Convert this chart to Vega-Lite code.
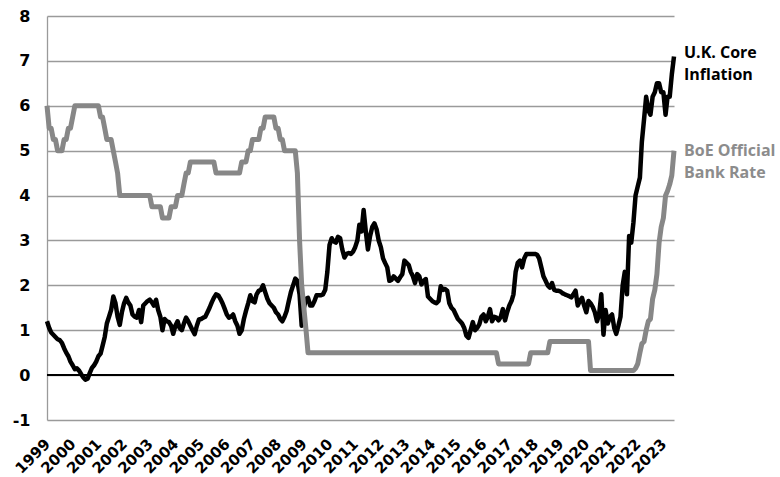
{
  "$schema": "https://vega.github.io/schema/vega-lite/v6.json",
  "width": 627,
  "height": 404,
  "autosize": {"type": "none"},
  "padding": {"left": 47, "top": 16, "right": 106, "bottom": 57},
  "background": "white",
  "config": {"view": {"stroke": null}, "font": "DejaVu Sans"},
  "datasets": {
    "zero": [{"z": 0}],
    "labels": [
      {"d": "2023-06-01", "y": 7.18, "series": "U.K. Core Inflation", "label": "U.K. Core\nInflation"},
      {"d": "2023-06-01", "y": 5.0, "series": "BoE Official Bank Rate", "label": "BoE Official\nBank Rate"}
    ],
    "monthly": [
      {"d":"1999-01-01","c":1.2,"b":6},{"d":"1999-02-01","c":1.05,"b":5.5},{"d":"1999-03-01","c":0.95,"b":5.5},{"d":"1999-04-01","c":0.9,"b":5.25},{"d":"1999-05-01","c":0.85,"b":5.25},{"d":"1999-06-01","c":0.8,"b":5},{"d":"1999-07-01","c":0.78,"b":5},{"d":"1999-08-01","c":0.72,"b":5},{"d":"1999-09-01","c":0.6,"b":5.25},{"d":"1999-10-01","c":0.5,"b":5.25},{"d":"1999-11-01","c":0.42,"b":5.5},{"d":"1999-12-01","c":0.3,"b":5.5},
      {"d":"2000-01-01","c":0.22,"b":5.75},{"d":"2000-02-01","c":0.13,"b":6},{"d":"2000-03-01","c":0.15,"b":6},{"d":"2000-04-01","c":0.1,"b":6},{"d":"2000-05-01","c":0.02,"b":6},{"d":"2000-06-01","c":-0.05,"b":6},{"d":"2000-07-01","c":-0.1,"b":6},{"d":"2000-08-01","c":-0.08,"b":6},{"d":"2000-09-01","c":0.05,"b":6},{"d":"2000-10-01","c":0.16,"b":6},{"d":"2000-11-01","c":0.22,"b":6},{"d":"2000-12-01","c":0.3,"b":6},
      {"d":"2001-01-01","c":0.42,"b":6},{"d":"2001-02-01","c":0.48,"b":5.75},{"d":"2001-03-01","c":0.65,"b":5.75},{"d":"2001-04-01","c":0.85,"b":5.5},{"d":"2001-05-01","c":1.15,"b":5.25},{"d":"2001-06-01","c":1.3,"b":5.25},{"d":"2001-07-01","c":1.45,"b":5.25},{"d":"2001-08-01","c":1.75,"b":5},{"d":"2001-09-01","c":1.6,"b":4.75},{"d":"2001-10-01","c":1.3,"b":4.5},{"d":"2001-11-01","c":1.12,"b":4},{"d":"2001-12-01","c":1.4,"b":4},
      {"d":"2002-01-01","c":1.6,"b":4},{"d":"2002-02-01","c":1.72,"b":4},{"d":"2002-03-01","c":1.62,"b":4},{"d":"2002-04-01","c":1.55,"b":4},{"d":"2002-05-01","c":1.35,"b":4},{"d":"2002-06-01","c":1.3,"b":4},{"d":"2002-07-01","c":1.28,"b":4},{"d":"2002-08-01","c":1.45,"b":4},{"d":"2002-09-01","c":1.18,"b":4},{"d":"2002-10-01","c":1.55,"b":4},{"d":"2002-11-01","c":1.6,"b":4},{"d":"2002-12-01","c":1.65,"b":4},
      {"d":"2003-01-01","c":1.68,"b":4},{"d":"2003-02-01","c":1.62,"b":3.75},{"d":"2003-03-01","c":1.55,"b":3.75},{"d":"2003-04-01","c":1.68,"b":3.75},{"d":"2003-05-01","c":1.45,"b":3.75},{"d":"2003-06-01","c":1.3,"b":3.75},{"d":"2003-07-01","c":1.0,"b":3.5},{"d":"2003-08-01","c":1.25,"b":3.5},{"d":"2003-09-01","c":1.2,"b":3.5},{"d":"2003-10-01","c":1.18,"b":3.5},{"d":"2003-11-01","c":1.1,"b":3.75},{"d":"2003-12-01","c":0.92,"b":3.75},
      {"d":"2004-01-01","c":1.1,"b":3.75},{"d":"2004-02-01","c":1.2,"b":4},{"d":"2004-03-01","c":1.05,"b":4},{"d":"2004-04-01","c":1.0,"b":4},{"d":"2004-05-01","c":1.15,"b":4.25},{"d":"2004-06-01","c":1.28,"b":4.5},{"d":"2004-07-01","c":1.2,"b":4.5},{"d":"2004-08-01","c":1.1,"b":4.75},{"d":"2004-09-01","c":1.0,"b":4.75},{"d":"2004-10-01","c":0.91,"b":4.75},{"d":"2004-11-01","c":1.1,"b":4.75},{"d":"2004-12-01","c":1.24,"b":4.75},
      {"d":"2005-01-01","c":1.25,"b":4.75},{"d":"2005-02-01","c":1.28,"b":4.75},{"d":"2005-03-01","c":1.3,"b":4.75},{"d":"2005-04-01","c":1.4,"b":4.75},{"d":"2005-05-01","c":1.5,"b":4.75},{"d":"2005-06-01","c":1.62,"b":4.75},{"d":"2005-07-01","c":1.72,"b":4.75},{"d":"2005-08-01","c":1.8,"b":4.5},{"d":"2005-09-01","c":1.78,"b":4.5},{"d":"2005-10-01","c":1.7,"b":4.5},{"d":"2005-11-01","c":1.6,"b":4.5},{"d":"2005-12-01","c":1.48,"b":4.5},
      {"d":"2006-01-01","c":1.35,"b":4.5},{"d":"2006-02-01","c":1.28,"b":4.5},{"d":"2006-03-01","c":1.3,"b":4.5},{"d":"2006-04-01","c":1.35,"b":4.5},{"d":"2006-05-01","c":1.2,"b":4.5},{"d":"2006-06-01","c":1.1,"b":4.5},{"d":"2006-07-01","c":0.92,"b":4.5},{"d":"2006-08-01","c":1.0,"b":4.75},{"d":"2006-09-01","c":1.25,"b":4.75},{"d":"2006-10-01","c":1.43,"b":4.75},{"d":"2006-11-01","c":1.6,"b":5},{"d":"2006-12-01","c":1.78,"b":5},
      {"d":"2007-01-01","c":1.65,"b":5.25},{"d":"2007-02-01","c":1.62,"b":5.25},{"d":"2007-03-01","c":1.8,"b":5.25},{"d":"2007-04-01","c":1.88,"b":5.25},{"d":"2007-05-01","c":1.9,"b":5.5},{"d":"2007-06-01","c":2.0,"b":5.5},{"d":"2007-07-01","c":1.85,"b":5.75},{"d":"2007-08-01","c":1.7,"b":5.75},{"d":"2007-09-01","c":1.6,"b":5.75},{"d":"2007-10-01","c":1.55,"b":5.75},{"d":"2007-11-01","c":1.5,"b":5.75},{"d":"2007-12-01","c":1.4,"b":5.5},
      {"d":"2008-01-01","c":1.35,"b":5.5},{"d":"2008-02-01","c":1.25,"b":5.25},{"d":"2008-03-01","c":1.2,"b":5.25},{"d":"2008-04-01","c":1.3,"b":5},{"d":"2008-05-01","c":1.43,"b":5},{"d":"2008-06-01","c":1.65,"b":5},{"d":"2008-07-01","c":1.85,"b":5},{"d":"2008-08-01","c":2.0,"b":5},{"d":"2008-09-01","c":2.15,"b":5},{"d":"2008-10-01","c":2.1,"b":4.5},{"d":"2008-11-01","c":1.8,"b":3},{"d":"2008-12-01","c":1.1,"b":2},
      {"d":"2009-01-01","c":1.5,"b":1.5},{"d":"2009-02-01","c":1.7,"b":1},{"d":"2009-03-01","c":1.72,"b":0.5},{"d":"2009-04-01","c":1.55,"b":0.5},{"d":"2009-05-01","c":1.55,"b":0.5},{"d":"2009-06-01","c":1.65,"b":0.5},{"d":"2009-07-01","c":1.78,"b":0.5},{"d":"2009-08-01","c":1.78,"b":0.5},{"d":"2009-09-01","c":1.78,"b":0.5},{"d":"2009-10-01","c":1.8,"b":0.5},{"d":"2009-11-01","c":1.9,"b":0.5},{"d":"2009-12-01","c":2.3,"b":0.5},
      {"d":"2010-01-01","c":2.9,"b":0.5},{"d":"2010-02-01","c":3.05,"b":0.5},{"d":"2010-03-01","c":2.98,"b":0.5},{"d":"2010-04-01","c":2.95,"b":0.5},{"d":"2010-05-01","c":3.08,"b":0.5},{"d":"2010-06-01","c":3.05,"b":0.5},{"d":"2010-07-01","c":2.8,"b":0.5},{"d":"2010-08-01","c":2.62,"b":0.5},{"d":"2010-09-01","c":2.7,"b":0.5},{"d":"2010-10-01","c":2.72,"b":0.5},{"d":"2010-11-01","c":2.7,"b":0.5},{"d":"2010-12-01","c":2.75,"b":0.5},
      {"d":"2011-01-01","c":2.85,"b":0.5},{"d":"2011-02-01","c":3.0,"b":0.5},{"d":"2011-03-01","c":3.35,"b":0.5},{"d":"2011-04-01","c":3.2,"b":0.5},{"d":"2011-05-01","c":3.68,"b":0.5},{"d":"2011-06-01","c":3.2,"b":0.5},{"d":"2011-07-01","c":2.8,"b":0.5},{"d":"2011-08-01","c":3.1,"b":0.5},{"d":"2011-09-01","c":3.3,"b":0.5},{"d":"2011-10-01","c":3.38,"b":0.5},{"d":"2011-11-01","c":3.25,"b":0.5},{"d":"2011-12-01","c":3.0,"b":0.5},
      {"d":"2012-01-01","c":2.85,"b":0.5},{"d":"2012-02-01","c":2.6,"b":0.5},{"d":"2012-03-01","c":2.5,"b":0.5},{"d":"2012-04-01","c":2.4,"b":0.5},{"d":"2012-05-01","c":2.1,"b":0.5},{"d":"2012-06-01","c":2.12,"b":0.5},{"d":"2012-07-01","c":2.2,"b":0.5},{"d":"2012-08-01","c":2.15,"b":0.5},{"d":"2012-09-01","c":2.1,"b":0.5},{"d":"2012-10-01","c":2.18,"b":0.5},{"d":"2012-11-01","c":2.25,"b":0.5},{"d":"2012-12-01","c":2.55,"b":0.5},
      {"d":"2013-01-01","c":2.5,"b":0.5},{"d":"2013-02-01","c":2.45,"b":0.5},{"d":"2013-03-01","c":2.3,"b":0.5},{"d":"2013-04-01","c":2.2,"b":0.5},{"d":"2013-05-01","c":2.05,"b":0.5},{"d":"2013-06-01","c":2.25,"b":0.5},{"d":"2013-07-01","c":2.2,"b":0.5},{"d":"2013-08-01","c":2.02,"b":0.5},{"d":"2013-09-01","c":2.1,"b":0.5},{"d":"2013-10-01","c":2.14,"b":0.5},{"d":"2013-11-01","c":1.75,"b":0.5},{"d":"2013-12-01","c":1.7,"b":0.5},
      {"d":"2014-01-01","c":1.65,"b":0.5},{"d":"2014-02-01","c":1.62,"b":0.5},{"d":"2014-03-01","c":1.6,"b":0.5},{"d":"2014-04-01","c":1.65,"b":0.5},{"d":"2014-05-01","c":1.98,"b":0.5},{"d":"2014-06-01","c":1.9,"b":0.5},{"d":"2014-07-01","c":1.92,"b":0.5},{"d":"2014-08-01","c":1.88,"b":0.5},{"d":"2014-09-01","c":1.6,"b":0.5},{"d":"2014-10-01","c":1.5,"b":0.5},{"d":"2014-11-01","c":1.45,"b":0.5},{"d":"2014-12-01","c":1.35,"b":0.5},
      {"d":"2015-01-01","c":1.25,"b":0.5},{"d":"2015-02-01","c":1.2,"b":0.5},{"d":"2015-03-01","c":1.15,"b":0.5},{"d":"2015-04-01","c":1.05,"b":0.5},{"d":"2015-05-01","c":0.88,"b":0.5},{"d":"2015-06-01","c":0.83,"b":0.5},{"d":"2015-07-01","c":1.0,"b":0.5},{"d":"2015-08-01","c":1.18,"b":0.5},{"d":"2015-09-01","c":1.0,"b":0.5},{"d":"2015-10-01","c":1.05,"b":0.5},{"d":"2015-11-01","c":1.13,"b":0.5},{"d":"2015-12-01","c":1.3,"b":0.5},
      {"d":"2016-01-01","c":1.35,"b":0.5},{"d":"2016-02-01","c":1.2,"b":0.5},{"d":"2016-03-01","c":1.3,"b":0.5},{"d":"2016-04-01","c":1.47,"b":0.5},{"d":"2016-05-01","c":1.2,"b":0.5},{"d":"2016-06-01","c":1.3,"b":0.5},{"d":"2016-07-01","c":1.28,"b":0.5},{"d":"2016-08-01","c":1.22,"b":0.25},{"d":"2016-09-01","c":1.3,"b":0.25},{"d":"2016-10-01","c":1.47,"b":0.25},{"d":"2016-11-01","c":1.22,"b":0.25},{"d":"2016-12-01","c":1.4,"b":0.25},
      {"d":"2017-01-01","c":1.55,"b":0.25},{"d":"2017-02-01","c":1.65,"b":0.25},{"d":"2017-03-01","c":1.8,"b":0.25},{"d":"2017-04-01","c":2.3,"b":0.25},{"d":"2017-05-01","c":2.5,"b":0.25},{"d":"2017-06-01","c":2.55,"b":0.25},{"d":"2017-07-01","c":2.4,"b":0.25},{"d":"2017-08-01","c":2.6,"b":0.25},{"d":"2017-09-01","c":2.7,"b":0.25},{"d":"2017-10-01","c":2.7,"b":0.25},{"d":"2017-11-01","c":2.7,"b":0.5},{"d":"2017-12-01","c":2.7,"b":0.5},
      {"d":"2018-01-01","c":2.7,"b":0.5},{"d":"2018-02-01","c":2.68,"b":0.5},{"d":"2018-03-01","c":2.6,"b":0.5},{"d":"2018-04-01","c":2.4,"b":0.5},{"d":"2018-05-01","c":2.2,"b":0.5},{"d":"2018-06-01","c":2.1,"b":0.5},{"d":"2018-07-01","c":2.0,"b":0.5},{"d":"2018-08-01","c":1.95,"b":0.75},{"d":"2018-09-01","c":2.05,"b":0.75},{"d":"2018-10-01","c":1.9,"b":0.75},{"d":"2018-11-01","c":1.88,"b":0.75},{"d":"2018-12-01","c":1.88,"b":0.75},
      {"d":"2019-01-01","c":1.86,"b":0.75},{"d":"2019-02-01","c":1.82,"b":0.75},{"d":"2019-03-01","c":1.8,"b":0.75},{"d":"2019-04-01","c":1.78,"b":0.75},{"d":"2019-05-01","c":1.76,"b":0.75},{"d":"2019-06-01","c":1.73,"b":0.75},{"d":"2019-07-01","c":1.8,"b":0.75},{"d":"2019-08-01","c":1.88,"b":0.75},{"d":"2019-09-01","c":1.55,"b":0.75},{"d":"2019-10-01","c":1.65,"b":0.75},{"d":"2019-11-01","c":1.72,"b":0.75},{"d":"2019-12-01","c":1.55,"b":0.75},
      {"d":"2020-01-01","c":1.4,"b":0.75},{"d":"2020-02-01","c":1.65,"b":0.75},{"d":"2020-03-01","c":1.6,"b":0.1},{"d":"2020-04-01","c":1.52,"b":0.1},{"d":"2020-05-01","c":1.4,"b":0.1},{"d":"2020-06-01","c":1.2,"b":0.1},{"d":"2020-07-01","c":1.35,"b":0.1},{"d":"2020-08-01","c":1.8,"b":0.1},{"d":"2020-09-01","c":0.9,"b":0.1},{"d":"2020-10-01","c":1.45,"b":0.1},{"d":"2020-11-01","c":1.15,"b":0.1},{"d":"2020-12-01","c":1.3,"b":0.1},
      {"d":"2021-01-01","c":1.35,"b":0.1},{"d":"2021-02-01","c":1.05,"b":0.1},{"d":"2021-03-01","c":0.92,"b":0.1},{"d":"2021-04-01","c":1.1,"b":0.1},{"d":"2021-05-01","c":1.3,"b":0.1},{"d":"2021-06-01","c":2.0,"b":0.1},{"d":"2021-07-01","c":2.3,"b":0.1},{"d":"2021-08-01","c":1.8,"b":0.1},{"d":"2021-09-01","c":3.1,"b":0.1},{"d":"2021-10-01","c":2.95,"b":0.1},{"d":"2021-11-01","c":3.4,"b":0.1},{"d":"2021-12-01","c":4.0,"b":0.15},
      {"d":"2022-01-01","c":4.2,"b":0.25},{"d":"2022-02-01","c":4.4,"b":0.5},{"d":"2022-03-01","c":5.2,"b":0.7},{"d":"2022-04-01","c":5.7,"b":0.75},{"d":"2022-05-01","c":6.2,"b":1.0},{"d":"2022-06-01","c":5.9,"b":1.2},{"d":"2022-07-01","c":5.8,"b":1.25},{"d":"2022-08-01","c":6.2,"b":1.7},{"d":"2022-09-01","c":6.3,"b":1.9},{"d":"2022-10-01","c":6.5,"b":2.25},{"d":"2022-11-01","c":6.5,"b":2.95},{"d":"2022-12-01","c":6.3,"b":3.3},
      {"d":"2023-01-01","c":6.3,"b":3.5},{"d":"2023-02-01","c":5.8,"b":4.0},{"d":"2023-03-01","c":6.2,"b":4.1},{"d":"2023-04-01","c":6.2,"b":4.25},{"d":"2023-05-01","c":6.7,"b":4.45},{"d":"2023-06-01","c":7.1,"b":5.0}
    ]
  },
  "layer": [
    {
      "data": {"name": "zero"},
      "mark": {"type": "rule", "color": "black", "strokeWidth": 2},
      "encoding": {
        "y": {
          "field": "z", "type": "quantitative",
          "scale": {"domain": [-1, 8], "nice": false, "zero": false},
          "axis": {
            "values": [-1, 0, 1, 2, 3, 4, 5, 6, 7, 8],
            "labelExpr": "'' + datum.value",
            "grid": true, "gridColor": "#9a9a9a", "gridWidth": 1.3,
            "domain": true, "domainColor": "#9a9a9a", "domainWidth": 1.3,
            "ticks": false, "labelFontSize": 16, "labelFontWeight": "bold",
            "labelColor": "black", "labelPadding": 17, "title": null,
            "labelFont": "DejaVu Sans"
          }
        }
      }
    },
    {
      "data": {"name": "monthly"},
      "mark": {"type": "line", "color": "black", "strokeWidth": 4.5, "strokeJoin": "round"},
      "encoding": {
        "x": {
          "field": "d", "type": "temporal",
          "scale": {"type": "utc", "nice": false, "domain": [{"year": 1999, "month": 1, "date": 1, "utc": true}, {"year": 2023, "month": 6, "date": 1, "utc": true}]},
          "axis": {
            "format": "%Y", "tickCount": {"interval": "year", "step": 1},
            "labelAngle": -45, "labelAlign": "right", "labelBaseline": "middle",
            "labelFontSize": 15, "labelFontWeight": "bold", "labelColor": "black",
            "labelFont": "DejaVu Sans", "labelOverlap": false, "labelFlush": false,
            "grid": false, "domain": false, "ticks": false, "labelPadding": 21, "title": null
          }
        },
        "y": {"field": "c", "type": "quantitative"}
      }
    },
    {
      "data": {"name": "monthly"},
      "mark": {"type": "line", "color": "#878787", "strokeWidth": 5, "strokeJoin": "round"},
      "encoding": {
        "x": {"field": "d", "type": "temporal"},
        "y": {"field": "b", "type": "quantitative"}
      }
    },
    {
      "data": {"name": "labels"},
      "mark": {"type": "text", "align": "left", "baseline": "middle", "dx": 10, "fontWeight": "bold", "fontSize": 16, "font": "Open Sans", "lineBreak": "\n", "lineHeight": 22},
      "encoding": {
        "x": {"field": "d", "type": "temporal"},
        "y": {"field": "y", "type": "quantitative"},
        "text": {"field": "label", "type": "nominal"},
        "color": {"field": "series", "type": "nominal", "legend": null, "scale": {"domain": ["U.K. Core Inflation", "BoE Official Bank Rate"], "range": ["#000000", "#8c8c8c"]}}
      }
    }
  ]
}
